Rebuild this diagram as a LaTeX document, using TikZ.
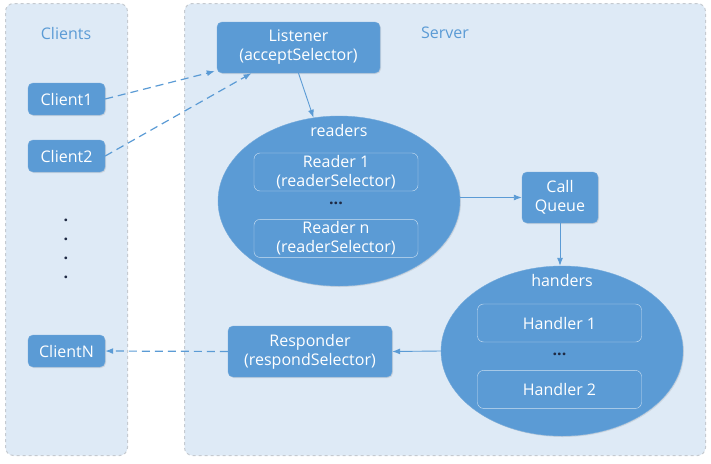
\documentclass[tikz,border=0pt]{standalone}
\usepackage{fontspec}
\setmainfont{Open Sans}
\usetikzlibrary{arrows.meta, positioning, shapes.geometric, shadows}

\definecolor{boxblue}{HTML}{5B9BD5}
\definecolor{panelblue}{HTML}{DEEAF6}
\definecolor{panelgray}{HTML}{C5CAD0}
\definecolor{dotnavy}{HTML}{1F2A44}

\begin{document}
\begin{tikzpicture}[
    x=1pt, y=-1pt,
    font=\fontsize{16}{19}\selectfont,
    panel/.style={draw=panelgray, dashed, line width=1pt, fill=panelblue, rounded corners=8pt, anchor=north west, inner sep=0pt},
    box/.style={fill=boxblue, draw=boxblue!85!white, rounded corners=5pt, text=white, align=center, inner sep=0pt,
        drop shadow={opacity=0.2, shadow xshift=1pt, shadow yshift=-1pt}},
    group/.style={ellipse, fill=boxblue, draw=boxblue!85!white, inner sep=0pt, minimum width=242pt, minimum height=170pt,
        drop shadow={opacity=0.2, shadow xshift=1pt, shadow yshift=-1pt}},
    slot/.style={draw=white!70!boxblue, rounded corners=6pt, text=white, align=center, minimum width=164pt, minimum height=38pt, inner sep=0pt},
    title/.style={text=boxblue},
    arrow/.style={-{Latex[length=8pt, width=6pt]}, boxblue, line width=0.9pt},
    dasharrow/.style={arrow, line width=1.2pt, dash pattern=on 8pt off 5pt}
]
\useasboundingbox (0,0) rectangle (711,463);

% Panels
\node (clientspanel) [panel, minimum width=122pt, minimum height=452pt] at (5,3) {};
\node (serverpanel) [panel, minimum width=521pt, minimum height=452pt] at (184,3) {};
\node (clientstitle) [title] at (66,33) {Clients};
\node (servertitle) [title] at (445,33) {Server};

% Clients
\node (client1) [box, minimum width=77pt, minimum height=32pt] at (66.5,99) {Client1};
\node (client2) [box, minimum width=77pt, minimum height=32pt] at (66.5,156) {Client2};
\node (clientn) [box, minimum width=77pt, minimum height=32pt] at (66.5,351) {ClientN};
\foreach \y [count=\i] in {219,238,257,276}
    \node (dot\i) [text=dotnavy, anchor=base, inner sep=0pt] at (66,\y+2) {\textbf{.}};

% Server
\node (listener) [box, minimum width=163pt, minimum height=51pt] at (298.5,47.5) {Listener\\(acceptSelector)};
\node (readers) [group] at (339,201) {};
\node (readerslabel) [text=white] at (339,130) {readers};
\node (reader1) [slot] at (336,172) {Reader 1\\(readerSelector)};
\node (readerdots) [text=dotnavy] at (336,203) {\textbf{...}};
\node (readern) [slot, below=28pt of reader1] {Reader n\\(readerSelector)};
\node (callqueue) [box, minimum width=76pt, minimum height=51pt] at (560,197.5) {Call\\Queue};
\node (handers) [group] at (562,351) {};
\node (handerslabel) [text=white] at (562,280) {handers};
\node (handler1) [slot] at (559.5,323) {Handler 1};
\node (handlerdots) [text=dotnavy] at (559.5,354) {\textbf{...}};
\node (handler2) [slot, below=28pt of handler1] {Handler 2};
\node (responder) [box, minimum width=164pt, minimum height=51pt] at (310,351.5) {Responder\\(respondSelector)};

% Arrows
\draw [dasharrow] (client1.east) -- ([xshift=-2pt, yshift=2pt]listener.south west);
\draw [dasharrow] (client2.east) -- ([xshift=-47pt]listener.south);
\draw [arrow] (listener.south) -- (readers.107);
\draw [arrow] (readers.east |- callqueue.west) -- (callqueue.west);
\draw [arrow] (callqueue.south) -- (callqueue.south |- handers.north);
\draw [arrow] (handers.west) -- (responder.east);
\draw [dasharrow] (responder.west) -- (clientn.east);

\end{tikzpicture}
\end{document}
